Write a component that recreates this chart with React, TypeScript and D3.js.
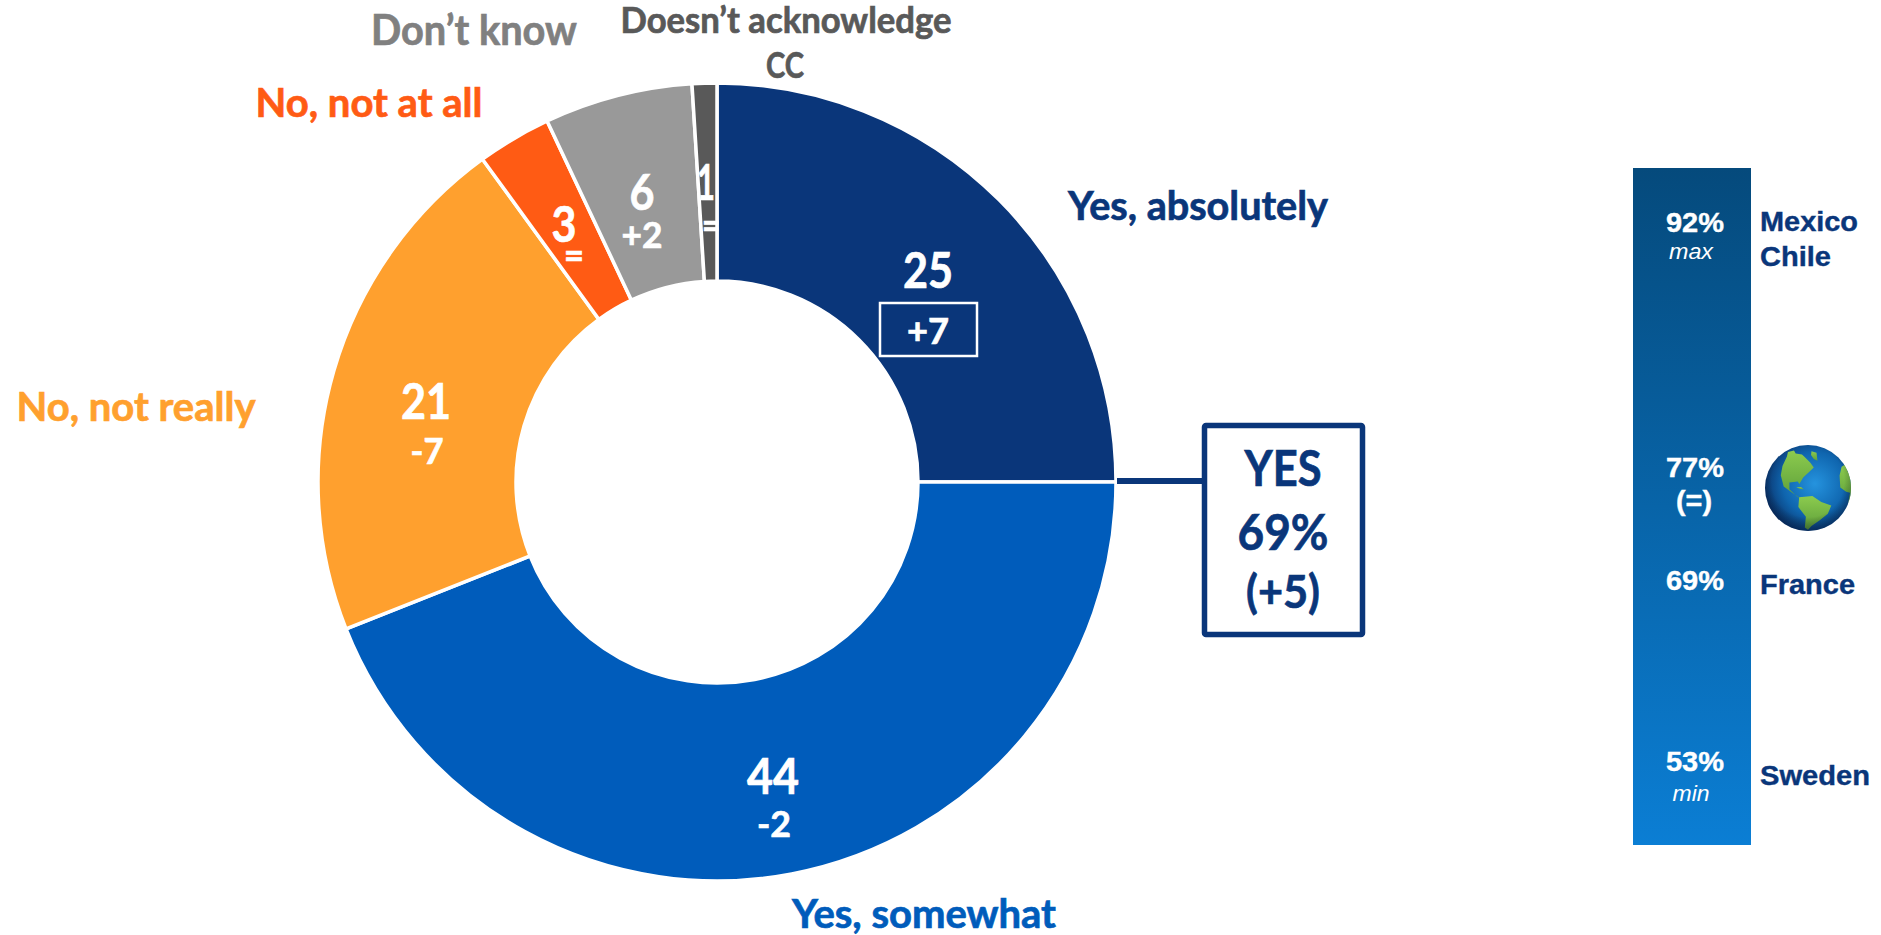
import React from "react";
import * as d3 from "d3";

// Survey shares, in percentage points, clockwise from twelve o'clock
const answers = ["Yes, absolutely", "Yes, somewhat", "No, not really", "No, not at all", "Don't know", "Doesn't acknowledge CC"];
const shares = [25, 44, 21, 3, 6, 1];
const changes = ["+7", "-2", "-7", "=", "+2", "="];
const sliceColors = ["#0A367A", "#005CBB", "#FFA02E", "#FF5B14", "#999999", "#595959"];

// Country range column
const rangeValues = ["92%", "77%", "69%", "53%"];
const rangeNotes = ["max", "(=)", "", "min"];

// Rough continent outlines as [lon, lat] rings
const northAmerica: [number, number][] = [[-165, 62], [-155, 71], [-125, 70], [-95, 72], [-80, 68], [-62, 58], [-56, 50], [-66, 44], [-76, 36], [-81, 27], [-84, 30], [-97, 27], [-95, 18], [-83, 10], [-78, 8], [-88, 13], [-105, 20], [-117, 33], [-125, 45], [-140, 59]];
const greenland: [number, number][] = [[-55, 72], [-40, 80], [-22, 74], [-42, 60], [-50, 64]];
const southAmerica: [number, number][] = [[-80, 9], [-62, 11], [-50, 2], [-35, -6], [-39, -18], [-50, -28], [-62, -40], [-68, -54], [-74, -45], [-71, -20], [-81, -5]];
const africa: [number, number][] = [[-17, 15], [-10, 30], [10, 37], [32, 31], [50, 12], [40, -15], [30, -33], [18, -34], [10, -2], [-5, 5]];
const cuba: [number, number][] = [[-85, 22], [-78, 23], [-74, 20], [-80, 20.5]];

const W = 1881;
const H = 935;
const cx = 717;
const cy = 482;

const sans = "Lato, Carlito, sans-serif";
const arial = "'Liberation Sans', Arial, sans-serif";

type LabelProps = {
  x: number; y: number; w: number; size: number; fill: string;
  family?: string; anchor?: "start" | "middle"; italic?: boolean; weight?: number; heavy?: number; children: string;
};

// Bold label fitted to a known pixel width, thickened by a hairline of its own colour
function Label({ x, y, w, size, fill, family = sans, anchor = "middle", italic, weight = 700, heavy = 0.7, children }: LabelProps) {
  return (
    <text x={x} y={y} textAnchor={anchor} fontFamily={family} fontSize={size} fontWeight={weight}
      fontStyle={italic ? "italic" : "normal"} fill={fill} stroke={fill} strokeWidth={heavy}
      textLength={w} lengthAdjust="spacingAndGlyphs">
      {children}
    </text>
  );
}

function Globe({ x, y, r }: { x: number; y: number; r: number }) {
  const projection = d3.geoOrthographic().rotate([68, -22]).scale(r).translate([x, y]).clipAngle(90);
  const path = d3.geoPath(projection);
  const land = [northAmerica, greenland, southAmerica, africa, cuba];
  return (
    <g>
      <circle cx={x} cy={y} r={r} fill="url(#globeSea)" />
      {land.map((ring, i) => (
        <path key={i} fill="url(#globeLand)"
          d={path({ type: "Polygon", coordinates: [[...ring, ring[0]]] } as any) ?? ""} />
      ))}
      <circle cx={x} cy={y} r={r} fill="url(#globeShade)" />
    </g>
  );
}

export default function App() {
  const pie = d3.pie<number>().value((d) => d).sort(null)(shares);
  const arc = d3.arc<d3.PieArcDatum<number>>().innerRadius(201).outerRadius(399);

  const barTop = 168;
  const barBottom = 845;
  const white = "#FFFFFF";
  const navy = "#0A367A";

  return (
    <svg width={W} height={H} viewBox={`0 0 ${W} ${H}`}
      style={{ position: "absolute", left: 0, top: 0, display: "block", background: "#fff" }}>
      <defs>
        <linearGradient id="rangeFill" x1="0" y1="0" x2="0" y2="1">
          <stop offset="0" stopColor="#054A7C" />
          <stop offset="1" stopColor="#0B7ED4" />
        </linearGradient>
        <radialGradient id="globeSea" cx="0.58" cy="0.45" r="0.62">
          <stop offset="0" stopColor="#2593DE" />
          <stop offset="0.6" stopColor="#0F65AE" />
          <stop offset="1" stopColor="#0A2F66" />
        </radialGradient>
        <linearGradient id="globeLand" x1="0" y1="0" x2="0" y2="1">
          <stop offset="0" stopColor="#8CCB4E" />
          <stop offset="1" stopColor="#5E9F3A" />
        </linearGradient>
        <radialGradient id="globeShade" cx="0.5" cy="0.42" r="0.6">
          <stop offset="0.7" stopColor="#000" stopOpacity="0" />
          <stop offset="1" stopColor="#00143A" stopOpacity="0.45" />
        </radialGradient>
      </defs>

      {/* Donut */}
      <g transform={`translate(${cx},${cy})`}>
        {pie.map((d, i) => (
          <path key={answers[i]} d={arc(d) ?? ""} fill={sliceColors[i]} stroke={white} strokeWidth={3.5} />
        ))}
      </g>

      {/* Slice values and changes */}
      <Label x={928} y={288} w={50} size={50} fill={white}>{String(shares[0])}</Label>
      <rect x={880} y={303} width={97} height={53} fill="none" stroke={white} strokeWidth={2.5} />
      <Label x={928} y={344} w={42} size={37} fill={white}>{changes[0]}</Label>

      <Label x={773} y={794} w={52} size={50} fill={white}>{String(shares[1])}</Label>
      <Label x={774} y={837} w={34} size={37} fill={white}>{changes[1]}</Label>

      <Label x={426} y={419} w={50} size={50} fill={white}>{String(shares[2])}</Label>
      <Label x={427} y={464} w={33} size={37} fill={white}>{changes[2]}</Label>

      <Label x={564} y={242} w={25} size={50} fill={white}>{String(shares[3])}</Label>
      <Label x={574} y={268} w={20} size={37} fill={white}>{changes[3]}</Label>

      <Label x={642} y={210} w={25} size={50} fill={white}>{String(shares[4])}</Label>
      <Label x={642} y={248} w={41} size={37} fill={white}>{changes[4]}</Label>

      <Label x={706} y={200} w={18} size={50} fill={white}>{String(shares[5])}</Label>
      <Label x={711} y={238} w={18} size={37} fill={white}>{changes[5]}</Label>

      {/* Slice names */}
      <Label x={1198} y={220} w={260} size={40} fill={sliceColors[0]}>Yes, absolutely</Label>
      <Label x={924} y={928} w={264} size={40} fill={sliceColors[1]}>Yes, somewhat</Label>
      <Label x={136} y={421} w={239} size={40} fill={sliceColors[2]}>No, not really</Label>
      <Label x={369} y={117} w={227} size={40} fill={sliceColors[3]}>No, not at all</Label>
      <Label x={474} y={45} w={206} size={42} fill="#808080">Don’t know</Label>
      <Label x={786} y={33} w={331} size={36} fill={sliceColors[5]}>Doesn’t acknowledge</Label>
      <Label x={785} y={78} w={38} size={36} fill={sliceColors[5]}>CC</Label>

      {/* Total callout */}
      <line x1={1117} x2={1203} y1={481} y2={481} stroke={navy} strokeWidth={6} />
      <rect x={1204.5} y={425.5} width={158} height={209} rx={1.5} fill="#fff" stroke={navy} strokeWidth={5.5} />
      <Label x={1283} y={486} w={77} size={50} fill={navy}>YES</Label>
      <Label x={1283} y={550} w={91} size={50} fill={navy}>69%</Label>
      <Label x={1283} y={608} w={74} size={46} fill={navy}>(+5)</Label>

      {/* Country range */}
      <rect x={1633} y={barTop} width={118} height={barBottom - barTop} fill="url(#rangeFill)" />
      <Label x={1695} y={232} w={58} size={28} fill={white} family={arial} heavy={0.4}>{rangeValues[0]}</Label>
      <Label x={1691} y={259} w={44} size={22} fill={white} family={arial} italic weight={400} heavy={0}>{rangeNotes[0]}</Label>
      <Label x={1695} y={477} w={58} size={28} fill={white} family={arial} heavy={0.4}>{rangeValues[1]}</Label>
      <Label x={1694} y={510} w={36} size={28} fill={white} family={arial} heavy={0.4}>{rangeNotes[1]}</Label>
      <Label x={1695} y={590} w={58} size={28} fill={white} family={arial} heavy={0.4}>{rangeValues[2]}</Label>
      <Label x={1695} y={771} w={58} size={28} fill={white} family={arial} heavy={0.4}>{rangeValues[3]}</Label>
      <Label x={1691} y={801} w={37} size={22} fill={white} family={arial} italic weight={400} heavy={0}>{rangeNotes[3]}</Label>

      <Label x={1760} y={231} w={98} size={28} fill={navy} family={arial} anchor="start" heavy={0.4}>Mexico</Label>
      <Label x={1760} y={266} w={71} size={28} fill={navy} family={arial} anchor="start" heavy={0.4}>Chile</Label>
      <Label x={1760} y={594} w={95} size={28} fill={navy} family={arial} anchor="start" heavy={0.4}>France</Label>
      <Label x={1760} y={785} w={110} size={28} fill={navy} family={arial} anchor="start" heavy={0.4}>Sweden</Label>

      <Globe x={1808} y={488} r={43} />
    </svg>
  );
}
